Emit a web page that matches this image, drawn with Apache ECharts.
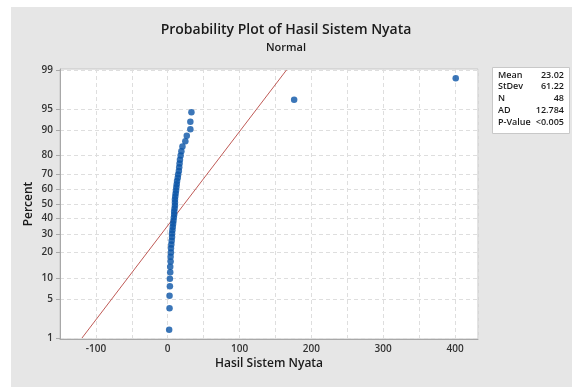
<!DOCTYPE html>
<html>
<head>
<meta charset="utf-8">
<script src="https://cdn.jsdelivr.net/npm/echarts@6/dist/echarts.min.js"></script>
<style>
html,body{margin:0;padding:0;background:#fff;width:572px;height:387px;overflow:hidden;}
#bg{position:absolute;left:11px;top:7px;right:0;bottom:0;background:#e6e6e6;}
#chart{position:absolute;left:0;top:0;width:572px;height:387px;}
</style>
</head>
<body>
<div id="bg"></div>
<div id="chart"></div>
<script>
const values = [2, 2.5, 2.5, 3, 3, 3.5, 3.5, 4, 4, 4.5, 4.5, 5, 5.5, 6, 6, 6.5, 7, 7.5, 8, 8.5,
  9, 9, 9.5, 10, 10, 10, 10.5, 11, 11.5, 12, 12.5, 13, 14, 14.5, 15.5, 16, 16.5, 17, 18, 19, 20.5,
  24.5, 26.5, 31.5, 31.5, 33, 176, 401];
// Plotting positions (percent) for each sorted observation
const percents = [1.45, 3.51, 5.58, 7.64, 9.71, 11.78, 13.84, 15.91, 17.98, 20.04, 22.11, 24.17,
  26.24, 28.31, 30.37, 32.44, 34.50, 36.57, 38.64, 40.70, 42.77, 44.83, 46.90, 48.97, 51.03, 53.10,
  55.17, 57.23, 59.30, 61.36, 63.43, 65.50, 67.56, 69.63, 71.69, 73.76, 75.83, 77.89, 79.96, 82.02,
  84.09, 86.16, 88.22, 90.29, 92.36, 94.42, 96.49, 98.55];
// Fitted normal line endpoints (x at 1% and 99%)
const fitX = [-119.4, 165.4];
const fitP = [1, 99];
// Axis tick labels
const yTicks = [1, 5, 10, 20, 30, 40, 50, 60, 70, 80, 90, 95, 99];
const xTicks = [-100, 0, 100, 200, 300, 400];
// Summary table
const statNames = ['Mean', 'StDev', 'N', 'AD', 'P-Value'];
const statValues = ['23.02', '61.22', '48', '12.784', '<0.005'];

// inverse standard normal CDF (probability scale transform)
function probit(p) {
  const a = [-3.969683028665376e+01, 2.209460984245205e+02, -2.759285104469687e+02, 1.383577518672690e+02, -3.066479806614716e+01, 2.506628277459239e+00];
  const b = [-5.447609879822406e+01, 1.615858368580409e+02, -1.556989798598866e+02, 6.680131188771972e+01, -1.328068155288572e+01];
  const c = [-7.784894002430293e-03, -3.223964580411365e-01, -2.400758277161838e+00, -2.549732539343734e+00, 4.374664141464968e+00, 2.938163982698783e+00];
  const d = [7.784695709041462e-03, 3.224671290700398e-01, 2.445134137142996e+00, 3.754408661907416e+00];
  const pl = 0.02425, ph = 1 - pl;
  let q, r;
  if (p < pl) {
    q = Math.sqrt(-2 * Math.log(p));
    return (((((c[0]*q+c[1])*q+c[2])*q+c[3])*q+c[4])*q+c[5]) / ((((d[0]*q+d[1])*q+d[2])*q+d[3])*q+1);
  } else if (p <= ph) {
    q = p - 0.5; r = q*q;
    return (((((a[0]*r+a[1])*r+a[2])*r+a[3])*r+a[4])*r+a[5])*q / (((((b[0]*r+b[1])*r+b[2])*r+b[3])*r+b[4])*r+1);
  } else {
    q = Math.sqrt(-2 * Math.log(1 - p));
    return -(((((c[0]*q+c[1])*q+c[2])*q+c[3])*q+c[4])*q+c[5]) / ((((d[0]*q+d[1])*q+d[2])*q+d[3])*q+1);
  }
}
const z = p => probit(p / 100);
const zTicks = yTicks.map(z);
const zLabel = {};
yTicks.forEach(t => { zLabel[z(t).toFixed(6)] = String(t); });

const pts = values.map((v, i) => [v, z(percents[i])]);
const fit = fitX.map((v, i) => [v, z(fitP[i])]);

const FONT = '"Open Sans", "Noto Sans", sans-serif';
const chart = echarts.init(document.getElementById('chart'), null, {renderer: 'canvas'});

const statGraphics = [];
statNames.forEach((n, i) => {
  statGraphics.push({type: 'text', left: 498, top: 70.5 + i * 11.9,
    style: {text: n, font: '600 9px ' + FONT, fill: '#1a1a1a'}});
  statGraphics.push({type: 'text', right: 8, top: 70.5 + i * 11.9,
    style: {text: statValues[i], font: '600 9px ' + FONT, fill: '#1a1a1a', align: 'right'}});
});

chart.setOption({
  backgroundColor: 'transparent',
  animation: false,
  title: [
    {text: 'Probability Plot of Hasil Sistem Nyata', left: 'center', top: 18,
      textStyle: {fontFamily: FONT, fontSize: 14, fontWeight: 600, color: '#1a1a1a'}},
    {text: 'Normal', left: 'center', top: 37,
      textStyle: {fontFamily: FONT, fontSize: 11, fontWeight: 600, color: '#1a1a1a'}}
  ],
  graphic: [
    {type: 'rect', left: 492, top: 67, shape: {width: 77, height: 66},
      style: {fill: '#fff', stroke: '#c8c8c8', lineWidth: 1}},
    ...statGraphics
  ],
  grid: {left: 60, top: 69, right: 94, bottom: 48, show: true, backgroundColor: '#fff',
    borderColor: '#c6c6c6', borderWidth: 1},
  xAxis: {
    type: 'value', min: -150, max: 432, interval: 50,
    name: 'Hasil Sistem Nyata', nameLocation: 'middle', nameGap: 19, nameMoveOverlap: false,
    nameTextStyle: {fontFamily: FONT, fontSize: 12, fontWeight: 600, color: '#1a1a1a'},
    axisLine: {show: true, onZero: false, lineStyle: {color: '#a8a8a8'}},
    axisTick: {show: false},
    axisLabel: {fontFamily: FONT, fontSize: 10, fontWeight: 600, color: '#333', margin: 5,
      showMinLabel: false, showMaxLabel: false,
      formatter: v => (xTicks.indexOf(v) >= 0 ? String(v) : '')},
    splitLine: {show: true, lineStyle: {type: [4, 3], color: '#dedede', width: 1}}
  },
  yAxis: {
    type: 'value', min: z(1) - 0.017, max: z(99) + 0.017,
    name: 'Percent', nameLocation: 'middle', nameGap: 25, nameRotate: 90, nameMoveOverlap: false,
    nameTextStyle: {fontFamily: FONT, fontSize: 12, fontWeight: 600, color: '#1a1a1a'},
    axisLine: {show: true, onZero: false, lineStyle: {color: '#a8a8a8'}},
    axisTick: {show: true, length: 4, customValues: zTicks, lineStyle: {color: '#a8a8a8'}},
    axisLabel: {fontFamily: FONT, fontSize: 10, fontWeight: 600, color: '#333', margin: 7,
      customValues: zTicks,
      formatter: v => zLabel[v.toFixed(6)] || ''},
    splitLine: {show: true, lineStyle: {type: [4, 3], color: '#dedede', width: 1}}
  },
  series: [
    {type: 'line', data: fit, symbol: 'none', clip: true,
      lineStyle: {color: '#bf5a56', width: 1}, z: 2},
    {type: 'scatter', data: pts, symbol: 'circle', symbolSize: 6.5,
      itemStyle: {color: '#0a54a6'}, z: 3}
  ]
});
</script>
</body>
</html>
